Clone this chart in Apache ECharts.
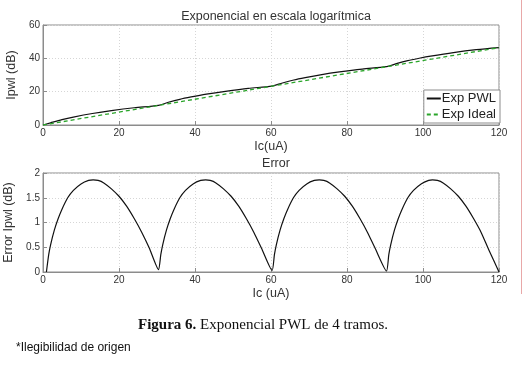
<!DOCTYPE html>
<html>
<head>
<meta charset="utf-8">
<script src="https://cdn.jsdelivr.net/npm/echarts@6/dist/echarts.min.js"></script>
<style>
  html, body { margin: 0; padding: 0; background: #fff; }
  #chart { width: 526px; height: 372px; }
</style>
</head>
<body>
<div id="chart"></div>
<script>
// top plot: PWL approximation vs ideal exponential (dB)
var pwlX = [0, 2, 5, 8, 13, 18, 24, 30.4, 33, 36, 39, 43, 48, 54, 60.3, 63, 66, 69, 73, 78, 84, 90.4, 93, 96, 99, 102, 108, 114, 120]
var pwlY = [0, 1.32, 3.2, 4.74, 6.89, 8.64, 10.36, 11.81, 13.63, 15.42, 16.83, 18.49, 20.21, 22.0, 23.35, 25.21, 27.02, 28.43, 30.09, 31.84, 33.58, 34.98, 36.81, 38.62, 40.03, 41.3, 43.46, 45.18, 46.4]
var idealX = [0, 30, 60, 90, 120]
var idealY = [0, 11.6, 23.2, 34.8, 46.4]

// bottom plot: error (dB)
var errX = [
  0.9, 1.5, 2, 3, 4, 5, 6.5, 8, 10, 12, 13.2, 14.5, 16, 18, 20, 22, 24, 26, 28, 30.4,
  31, 31.5, 32.5, 33.5, 34.5, 36, 37.5, 39.5, 41.5, 42.8, 44, 45.5, 47.5, 49.5, 51.5, 53.5, 55.5, 57.5, 60.3,
  60.9, 61.4, 62.4, 63.4, 64.4, 65.9, 67.4, 69.4, 71.4, 72.7, 73.9, 75.4, 77.4, 79.4, 81.4, 83.4, 85.4, 87.4, 90.4,
  91, 91.5, 92.5, 93.5, 94.5, 96, 97.5, 99.5, 101.5, 102.5, 103.8, 105.3, 107.3, 109.3, 111.3, 113.3, 115.3, 117.3, 120
]
var errY = [
  0, 0.35, 0.55, 0.85, 1.08, 1.27, 1.5, 1.65, 1.78, 1.85, 1.86, 1.85, 1.8, 1.68, 1.53, 1.33, 1.08, 0.8, 0.48, 0.05,
  0.35, 0.55, 0.85, 1.08, 1.27, 1.5, 1.65, 1.78, 1.85, 1.86, 1.85, 1.8, 1.68, 1.53, 1.33, 1.08, 0.8, 0.48, 0.03,
  0.35, 0.55, 0.85, 1.08, 1.27, 1.5, 1.65, 1.78, 1.85, 1.86, 1.85, 1.8, 1.68, 1.53, 1.33, 1.08, 0.8, 0.48, 0.02,
  0.35, 0.55, 0.85, 1.08, 1.27, 1.5, 1.65, 1.78, 1.85, 1.86, 1.85, 1.8, 1.68, 1.53, 1.33, 1.08, 0.8, 0.45, 0
]

function zip(xs, ys) {
  return xs.map(function(x, i) { return [x, ys[i]] })
}

var font = 'Liberation Sans, Arial, sans-serif'
var gridColor = '#d6d6d6'
var boxColor = '#8c8c8c'

function xAxisFor(gridIndex, name) {
  return {
    type: 'value',
    gridIndex: gridIndex,
    min: 0,
    max: 120,
    interval: 20,
    name: name,
    nameLocation: 'middle',
    nameGap: 15,
    nameTextStyle: { fontFamily: font, fontSize: 12.5, color: '#333' },
    axisLine: { show: true, lineStyle: { color: boxColor } },
    axisTick: { show: true, inside: true, length: 4, lineStyle: { color: boxColor } },
    axisLabel: { fontFamily: font, fontSize: 10, color: '#333', margin: 3 },
    splitLine: { show: true, lineStyle: { color: gridColor, type: [1, 2] } }
  }
}

function yAxisFor(gridIndex, name, max, interval, gap) {
  return {
    type: 'value',
    gridIndex: gridIndex,
    min: 0,
    max: max,
    interval: interval,
    name: name,
    nameLocation: 'middle',
    nameGap: gap,
    nameTextStyle: { fontFamily: font, fontSize: 12.5, color: '#333' },
    axisLine: { show: true, lineStyle: { color: boxColor } },
    axisTick: { show: true, inside: true, length: 4, lineStyle: { color: boxColor } },
    axisLabel: { fontFamily: font, fontSize: 10, color: '#333', margin: 3 },
    splitLine: { show: true, lineStyle: { color: gridColor, type: [1, 2] } }
  }
}

var chart = echarts.init(document.getElementById('chart'))

chart.setOption({
  animation: false,
  backgroundColor: '#fff',
  title: [
    {
      text: 'Exponencial en escala logarítmica',
      left: 271,
      top: 5,
      textAlign: 'center',
      textStyle: { fontFamily: font, fontSize: 12.5, fontWeight: 'normal', color: '#333' }
    },
    {
      text: 'Error',
      left: 271,
      top: 152,
      textAlign: 'center',
      textStyle: { fontFamily: font, fontSize: 12.5, fontWeight: 'normal', color: '#333' }
    }
  ],
  grid: [
    { left: 43, right: 27, top: 25, height: 100, show: true, borderColor: boxColor, borderWidth: 1, containLabel: false, outerBoundsMode: 'none' },
    { left: 43, right: 27, top: 173, height: 99, show: true, borderColor: boxColor, borderWidth: 1, containLabel: false, outerBoundsMode: 'none' }
  ],
  xAxis: [
    xAxisFor(0, 'Ic(uA)'),
    xAxisFor(1, 'Ic (uA)')
  ],
  yAxis: [
    yAxisFor(0, 'Ipwl (dB)', 60, 20, 17),
    yAxisFor(1, 'Error Ipwl (dB)', 2, 0.5, 20)
  ],
  legend: {
    orient: 'vertical',
    right: 26,
    top: 90,
    itemWidth: 14,
    itemHeight: 8,
    itemGap: 3,
    padding: [2, 4, 2, 2],
    backgroundColor: '#fff',
    borderColor: boxColor,
    borderWidth: 1,
    borderRadius: 0,
    itemStyle: { opacity: 0 },
    textStyle: { fontFamily: font, fontSize: 13, color: '#222', padding: [0, 0, 0, -4] },
    data: ['Exp PWL', 'Exp Ideal']
  },
  series: [
    {
      name: 'Exp PWL',
      type: 'line',
      xAxisIndex: 0,
      yAxisIndex: 0,
      symbol: 'none',
      smooth: 0.3,
      lineStyle: { color: '#111', width: 1.2 },
      itemStyle: { color: '#111' },
      data: zip(pwlX, pwlY)
    },
    {
      name: 'Exp Ideal',
      type: 'line',
      xAxisIndex: 0,
      yAxisIndex: 0,
      symbol: 'none',
      lineStyle: { color: '#2aa52a', width: 1.3, type: [4, 3] },
      itemStyle: { color: '#2aa52a' },
      data: zip(idealX, idealY)
    },
    {
      name: 'Error',
      type: 'line',
      xAxisIndex: 1,
      yAxisIndex: 1,
      symbol: 'none',
      smooth: 0.2,
      lineStyle: { color: '#111', width: 1.2 },
      data: zip(errX, errY)
    }
  ],
  graphic: [
    {
      type: 'text',
      left: 'center',
      top: 318,
      style: {
        rich: {
          b: { fontFamily: 'Liberation Serif, Times New Roman, serif', fontSize: 15, fontWeight: 'bold', fill: '#111' },
          n: { fontFamily: 'Liberation Serif, Times New Roman, serif', fontSize: 15, fill: '#111' }
        },
        text: '{b|Figura 6.}{n| Exponencial PWL de 4 tramos.}'
      }
    },
    {
      type: 'text',
      left: 16,
      top: 342,
      style: {
        text: '*Ilegibilidad de origen',
        fontFamily: font,
        fontSize: 12,
        fill: '#111'
      }
    },
    {
      type: 'line',
      shape: { x1: 521.5, y1: 0, x2: 521.5, y2: 294 },
      style: { stroke: '#e8a8a8', lineWidth: 1 }
    }
  ]
})
</script>
</body>
</html>
